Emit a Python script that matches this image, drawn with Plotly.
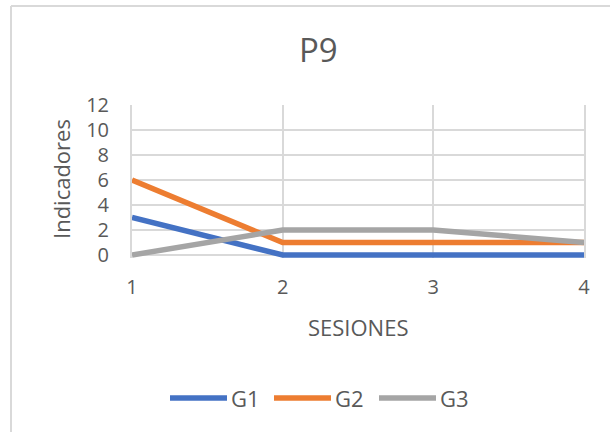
import plotly.graph_objects as go

# Session numbers on the x axis and indicator counts per group
sesiones = [1, 2, 3, 4]
g1 = [3, 0, 0, 0]
g2 = [6, 1, 1, 1]
g3 = [0, 2, 2, 1]
series_names = ["G1", "G2", "G3"]
series_colors = ["#4472C4", "#ED7D31", "#A5A5A5"]
y_ticks = [0, 2, 4, 6, 8, 10, 12]

TEXT = "#595959"
GRID = "#D9D9D9"
FONT = "Open Sans"

W, H = 610, 432
L, R, T, B = 132, 26, 105, 174
PW, PH = W - L - R, H - T - B


def px_x(px):
    return (px - L) / PW


def px_y(py):
    return (H - B - py) / PH


fig = go.Figure()
for name, vals, col in zip(series_names, [g1, g2, g3], series_colors):
    fig.add_trace(go.Scatter(
        x=sesiones, y=vals, mode="lines", name=name,
        line=dict(color=col, width=5.5), showlegend=False,
    ))

# Legend drawn as long line swatches with labels beside them
legend_y = px_y(398)
legend_items = [(170, 229), (274, 333), (379, 438)]
shapes = []
annotations = []
for (x0, tx), name, col in zip(legend_items, series_names, series_colors):
    shapes.append(dict(type="line", xref="paper", yref="paper",
                       x0=px_x(x0), x1=px_x(x0 + 57), y0=legend_y, y1=legend_y,
                       line=dict(color=col, width=5.5)))
    annotations.append(dict(text=name, xref="paper", yref="paper",
                            x=px_x(tx), y=legend_y, xanchor="left", yanchor="middle",
                            showarrow=False, font=dict(size=22, color=TEXT, family=FONT)))

# Chart frame (left and top edges)
shapes.append(dict(type="line", xref="paper", yref="paper",
                   x0=px_x(11), x1=px_x(11), y0=px_y(6), y1=px_y(440),
                   line=dict(color=GRID, width=2)))
shapes.append(dict(type="line", xref="paper", yref="paper",
                   x0=px_x(11), x1=px_x(620), y0=px_y(6), y1=px_y(6),
                   line=dict(color=GRID, width=2)))

annotations += [
    dict(text="P9", xref="paper", yref="paper", x=px_x(318), y=px_y(50),
         xanchor="center", yanchor="middle", showarrow=False,
         font=dict(size=33, color=TEXT, family=FONT)),
    dict(text="Indicadores", xref="paper", yref="paper", x=px_x(61), y=px_y(179),
         xanchor="center", yanchor="middle", showarrow=False, textangle=-90,
         font=dict(size=22, color=TEXT, family=FONT)),
    dict(text="SESIONES", xref="paper", yref="paper", x=px_x(358), y=px_y(327),
         xanchor="center", yanchor="middle", showarrow=False,
         font=dict(size=22, color=TEXT, family=FONT)),
]

fig.update_layout(
    width=W, height=H,
    margin=dict(l=L, r=R, t=T, b=B),
    paper_bgcolor="white", plot_bgcolor="white",
    font=dict(family=FONT, color=TEXT, size=20),
    shapes=shapes, annotations=annotations,
    showlegend=False,
)
fig.update_xaxes(
    range=[1, 4], tickvals=sesiones, showgrid=True, gridcolor=GRID, gridwidth=2,
    zeroline=False, showline=False, ticks="", ticklabelstandoff=15,
    tickfont=dict(size=20, color=TEXT, family=FONT),
)
fig.update_yaxes(
    range=[-0.24, 12], tickvals=y_ticks, showgrid=True, gridcolor=GRID, gridwidth=2,
    zeroline=False, showline=True, mirror=True, linecolor=GRID, linewidth=2,
    ticks="", ticklabelstandoff=17,
    tickfont=dict(size=20, color=TEXT, family=FONT),
)

fig.write_html("out.html")
